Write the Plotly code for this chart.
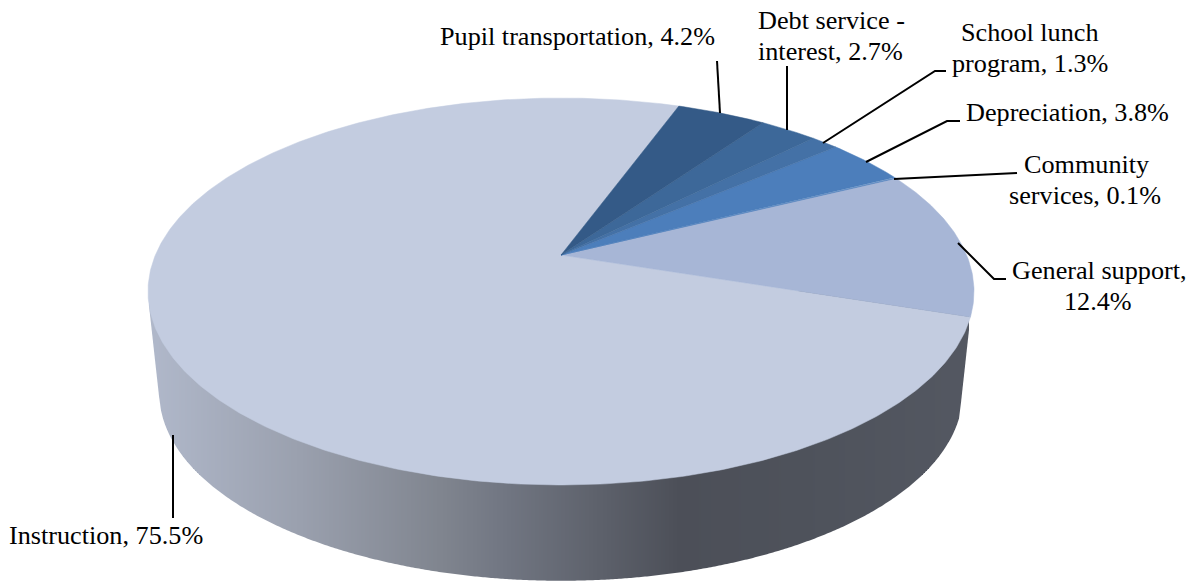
import numpy as np
import plotly.graph_objects as go

# ---- chart data (clockwise from the first slice) ----
categories = ["Pupil transportation", "Debt service - interest", "School lunch program",
              "Depreciation", "Community services", "General support", "Instruction"]
values = [4.2, 2.7, 1.3, 3.8, 0.1, 12.4, 75.5]
slice_colors = ["#345A87", "#3D6899", "#4471A6", "#4C7EBB", "#4A7DBB", "#A7B6D6", "#C3CCE0"]
label_lines = [["Pupil transportation, 4.2%"],
               ["Debt service -", "interest, 2.7%"],
               ["School lunch", "program, 1.3%"],
               ["Depreciation, 3.8%"],
               ["Community", "services, 0.1%"],
               ["General support,", "12.4%"],
               ["Instruction, 75.5%"]]
label_centers = [[(577, 36)],
                 [(831, 20), (830, 51)],
                 [(1029, 32), (1030, 63)],
                 [(1067, 112)],
                 [(1086, 164), (1085, 195)],
                 [(1099, 270), (1098, 301)],
                 [(106, 535)]]
leaders = [[(717, 61), (720, 113)],
           [(787, 66), (787, 130)],
           [(946, 71), (935, 71), (823, 143)],
           [(960, 121), (947, 121), (866, 162)],
           [(1017, 173), (894, 179)],
           [(1006, 279), (994, 279), (958, 243)],
           [(173, 518), (173, 435)]]
wall_x = [150, 300, 440, 500, 600, 680, 800, 980]
wall_c = [(176, 184, 202), (154, 160, 174), (128, 133, 143), (114, 119, 131),
          (93, 97, 107), (76, 79, 88), (78, 82, 91), (84, 88, 98)]

# ---- perspective projection of the pie disc ----
START = 70.0
K, A, S = 0.1886, 405.6, 186.6
CX, CY_TOP, CY_BOTTOM, SCALE_BOTTOM = 561.0, 255.0, 357.0, 0.973
WALL_TOP = 291.0


def rim(deg, cy=CY_TOP, scale=1.0):
    t = np.radians(deg)
    w = 1 + K * np.sin(t)
    return CX + scale * A * np.cos(t) / w, cy - scale * S * np.sin(t) / w


cum = START - np.concatenate([[0], np.cumsum(values)]) * 3.6
fig = go.Figure()

# side wall: lower outline = lower convex hull of both rims of the Instruction slice
wall_angles = np.arange(cum[-2], cum[-2] - 172, -0.5)
tx, ty = rim(wall_angles)
bx, by = rim(wall_angles, CY_BOTTOM, SCALE_BOTTOM)
pts = sorted(zip(np.concatenate([tx, bx]), np.concatenate([ty, by])))
hull = []
for p in pts:
    while len(hull) >= 2:
        (ax, ay), (qx, qy) = hull[-2], hull[-1]
        # screen y grows downward: keep only points that turn along the lower outline
        if (qx - ax) * (p[1] - ay) - (qy - ay) * (p[0] - ax) >= 0:
            hull.pop()
        else:
            break
    hull.append(p)
hx, hy = np.array(hull).T

# pixel-aligned vertical bands carry the horizontal shading of the wall
edges = np.arange(np.ceil(hx.min()) + 1, np.floor(hx.max()), 2.0)
for e0, e1 in zip(edges[:-1], edges[1:]):
    xm = (e0 + e1) / 2
    rgb = [int(round(np.interp(xm, wall_x, [c[i] for c in wall_c]))) for i in range(3)]
    col = f"rgb({rgb[0]},{rgb[1]},{rgb[2]})"
    y0, y1 = np.interp([e0, e1], hx, hy)
    fig.add_trace(go.Scatter(x=[e0, e1, e1, e0, e0], y=[WALL_TOP, WALL_TOP, y1, y0, WALL_TOP],
                             mode="lines", fill="toself", fillcolor=col, line=dict(width=0),
                             hoverinfo="skip", showlegend=False))

# top face: one wedge per category (Instruction first so the others sit on top)
for i in [6, 5, 4, 3, 2, 1, 0]:
    angles = np.linspace(cum[i], cum[i + 1], max(3, int(values[i] * 6)))
    rx, ry = rim(angles)
    xs = np.concatenate([[CX], rx, [CX]])
    ys = np.concatenate([[CY_TOP], ry, [CY_TOP]])
    fig.add_trace(go.Scatter(x=xs, y=ys, mode="lines", fill="toself", fillcolor=slice_colors[i],
                             line=dict(color=slice_colors[i], width=0.5), name=categories[i],
                             hoveron="fills", text=f"{categories[i]}, {values[i]}%",
                             hoverinfo="text", showlegend=False))

# leader lines
for pts_ in leaders:
    fig.add_trace(go.Scatter(x=[p[0] for p in pts_], y=[p[1] for p in pts_], mode="lines",
                             line=dict(color="black", width=2), hoverinfo="skip", showlegend=False))

# labels
annotations = []
for lines, centers in zip(label_lines, label_centers):
    for line, (lx, ly) in zip(lines, centers):
        annotations.append(dict(x=lx, y=ly, xref="x", yref="y", text=line, showarrow=False,
                                xanchor="center", yanchor="middle",
                                font=dict(family="Liberation Serif", size=26.2, color="black")))

fig.update_layout(width=1200, height=581, margin=dict(l=0, r=0, t=0, b=0),
                  paper_bgcolor="white", plot_bgcolor="white", annotations=annotations,
                  xaxis=dict(range=[0, 1200], visible=False, fixedrange=True),
                  yaxis=dict(range=[581, 0], visible=False, fixedrange=True))
fig.write_html("out.html", config={"displayModeBar": False},
               post_script="document.body.style.margin='0';document.documentElement.style.overflow='hidden';")
